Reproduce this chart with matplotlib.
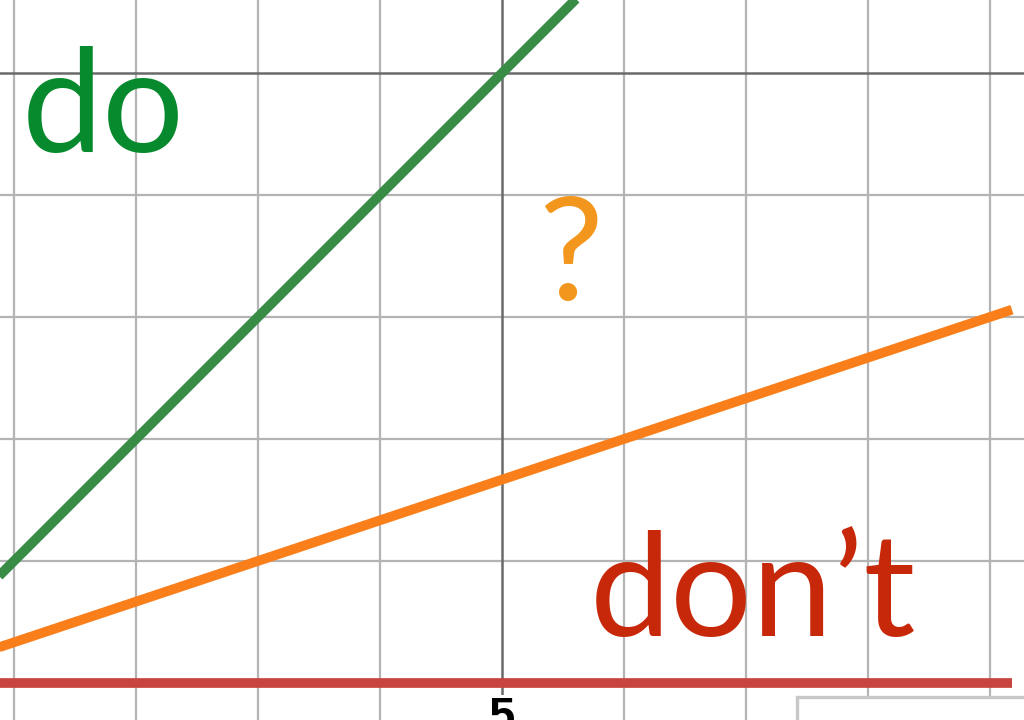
import matplotlib
matplotlib.use("Agg")
import matplotlib.pyplot as plt
from matplotlib.patches import Rectangle

# Data
line_x = [0.80, 9.18]
green_y = [0.80, 9.18]      # "do" line
orange_y = [0.267, 3.06]    # "?" line
red_y = [0.0, 0.0]          # "don't" line
minor_ticks = [1, 2, 3, 4, 6, 7, 8, 9]
major_ticks = [5]
minor_yticks = [1, 2, 3, 4]
major_yticks = [5]
tick_labels = ["5"]

W, H = 1024, 720
fig = plt.figure(figsize=(W / 100, H / 100), dpi=100)
ax = fig.add_axes([0, 0, 1, 1])
ax.set_xlim(5 - 502 / 122, 5 + 522 / 122)
ax.set_ylim(-37 / 122, 683 / 122)
ax.axis("off")

minor_c = "#b4b4b4"
major_c = "#6a6a6a"
for xv in minor_ticks:
    ax.axvline(xv, color=minor_c, lw=1.6, zorder=1)
for yv in minor_yticks:
    ax.axhline(yv, color=minor_c, lw=1.6, zorder=1)
for xv in major_ticks:
    ax.axvline(xv, color=major_c, lw=1.8, zorder=1.2)
for yv in major_yticks:
    ax.axhline(yv, color=major_c, lw=1.8, zorder=1.2)

lw = 7.0
ax.plot(line_x, green_y, color="#388c46", lw=lw, solid_capstyle="butt", zorder=3)
ax.plot(line_x, orange_y, color="#fa7e19", lw=lw, solid_capstyle="butt", zorder=3)
ax.plot(line_x, red_y, color="#c74440", lw=lw, solid_capstyle="butt", zorder=3)

# tick label (cut off by the bottom edge, as in the reference)
for xv, lab in zip(major_ticks, tick_labels):
    ax.text(xv, -0.11, lab, ha="center", va="top", fontsize=34,
            family="Liberation Sans", fontweight="bold", color="black", zorder=4,
            bbox=dict(facecolor="white", edgecolor="none", pad=1))

# corner box
ax.add_patch(Rectangle((797 / W, -0.05), 0.3, (720 - 697) / H + 0.05,
                       transform=ax.transAxes, facecolor="white",
                       edgecolor="#c8c8c8", lw=2.4, zorder=5, clip_on=True))

font = "Lato"
ax.text(22 / W, 1 - 152 / H, "do", transform=ax.transAxes, fontsize=104,
        family=font, color="#078a2e", ha="left", va="baseline", zorder=6)
ax.text(571 / W, 1 - 300 / H, "?", transform=ax.transAxes, fontsize=104,
        family=font, color="#f3961d", ha="center", va="baseline", zorder=6)
ax.text(590 / W, 1 - 636 / H, "don\u2019t", transform=ax.transAxes, fontsize=104,
        family=font, color="#c8280a", ha="left", va="baseline", zorder=6)

fig.savefig("out.png", dpi=100)
